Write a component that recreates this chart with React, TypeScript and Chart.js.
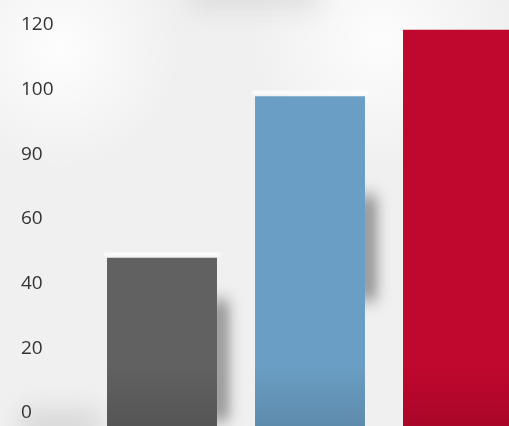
import React, { useEffect, useRef } from "react";
import { Chart, registerables } from "chart.js";

Chart.register(...registerables);

const categories = ["A", "B", "C"];
const values = [48, 98, 118.5];
const barColors = ["#616161", "#6a9ec4", "#c0072d"];
const yMin = -4;
const yMax = 120;
const yTickValues = [0, 20, 40, 60, 80, 100, 120];
const yTickLabels = ["0", "20", "40", "60", "90", "100", "120"];

const backgroundPlugin = {
  id: "bgPlugin",
  beforeDraw(chart: any) {
    const { ctx, width, height } = chart;
    ctx.save();
    ctx.fillStyle = "#f0f0f0";
    ctx.fillRect(0, 0, width, height);
    let g = ctx.createRadialGradient(60, 50, 0, 60, 50, 120);
    g.addColorStop(0, "rgba(255,255,255,0.9)");
    g.addColorStop(1, "rgba(255,255,255,0)");
    ctx.fillStyle = g;
    ctx.fillRect(0, 0, width, height);
    g = ctx.createRadialGradient(380, 40, 0, 380, 40, 130);
    g.addColorStop(0, "rgba(255,255,255,0.85)");
    g.addColorStop(1, "rgba(255,255,255,0)");
    ctx.fillStyle = g;
    ctx.fillRect(0, 0, width, height);
    ctx.filter = "blur(12px)";
    ctx.fillStyle = "rgba(190,190,190,0.35)";
    ctx.fillRect(190, -20, 130, 30);
    ctx.fillStyle = "rgba(170,170,170,0.35)";
    ctx.fillRect(20, 410, 80, 30);
    ctx.filter = "none";
    ctx.restore();
  },
  beforeDatasetsDraw(chart: any) {
    const { ctx } = chart;
    const meta = chart.getDatasetMeta(0);
    ctx.save();
    meta.data.forEach((bar: any, i: number) => {
      if (i === meta.data.length - 1) return;
      const right = bar.x + bar.width / 2;
      const h = bar.base - bar.y;
      ctx.filter = "blur(8px)";
      ctx.fillStyle = "rgba(30,30,30,0.65)";
      const top = bar.y + h * (i === 0 ? 0.25 : 0.3);
      const len = h * (i === 0 ? 0.72 : 0.32);
      ctx.fillRect(right - 4, top, 13, len);
      ctx.filter = "blur(1px)";
      ctx.fillStyle = "rgba(255,255,255,0.9)";
      ctx.fillRect(bar.x - bar.width / 2 - 3, bar.y - 5, bar.width + 6, 3);
    });
    ctx.filter = "none";
    ctx.restore();
  },
};

export default function App() {
  const ref = useRef<HTMLCanvasElement>(null);
  useEffect(() => {
    if (!ref.current) return;
    const chart = new Chart(ref.current, {
      type: "bar",
      data: {
        labels: categories,
        datasets: [
          {
            data: values,
            base: yMin,
            backgroundColor: (c: any) => {
              const base = barColors[c.dataIndex] ?? "#888";
              const area = c.chart.chartArea;
              if (!area) return base;
              const g = c.chart.ctx.createLinearGradient(0, area.top, 0, area.bottom);
              g.addColorStop(0, base);
              g.addColorStop(0.85, base);
              g.addColorStop(1, shade(base));
              return g;
            },
            borderWidth: 0,
            categoryPercentage: 1,
            barPercentage: 0.743,
          },
        ],
      },
      options: {
        animation: false,
        responsive: true,
        maintainAspectRatio: false,
        layout: { padding: { left: 21, top: 25, right: 0, bottom: 0 } },
        plugins: { legend: { display: false }, tooltip: { enabled: false } },
        scales: {
          x: { display: false },
          y: {
            min: yMin,
            max: yMax,
            grid: { display: false },
            border: { display: false },
            afterBuildTicks: (scale: any) => {
              scale.ticks = yTickValues.map((v) => ({ value: v }));
            },
            afterFit: (scale: any) => {
              scale.width = 67;
              scale.paddingTop = 0;
              scale.paddingBottom = 0;
            },
            ticks: {
              crossAlign: "far",
              padding: 0,
              color: "#333333",
              font: { family: "'Open Sans'", size: 19 },
              callback: (_v: any, i: number) => yTickLabels[i],
            },
          },
        },
      },
      plugins: [backgroundPlugin],
    });
    return () => chart.destroy();
  }, []);
  return (
    <div
      style={{
        position: "fixed",
        left: 0,
        top: 0,
        width: 509,
        height: 426,
        overflow: "hidden",
        background: "#f0f0f0",
      }}
    >
      <div style={{ width: 532, height: 426, position: "relative" }}>
        <canvas ref={ref} />
      </div>
    </div>
  );
}

function shade(hex: string): string {
  const n = parseInt(hex.slice(1), 16);
  const r = Math.round(((n >> 16) & 255) * 0.88);
  const g = Math.round(((n >> 8) & 255) * 0.88);
  const b = Math.round((n & 255) * 0.88);
  return `rgb(${r},${g},${b})`;
}
